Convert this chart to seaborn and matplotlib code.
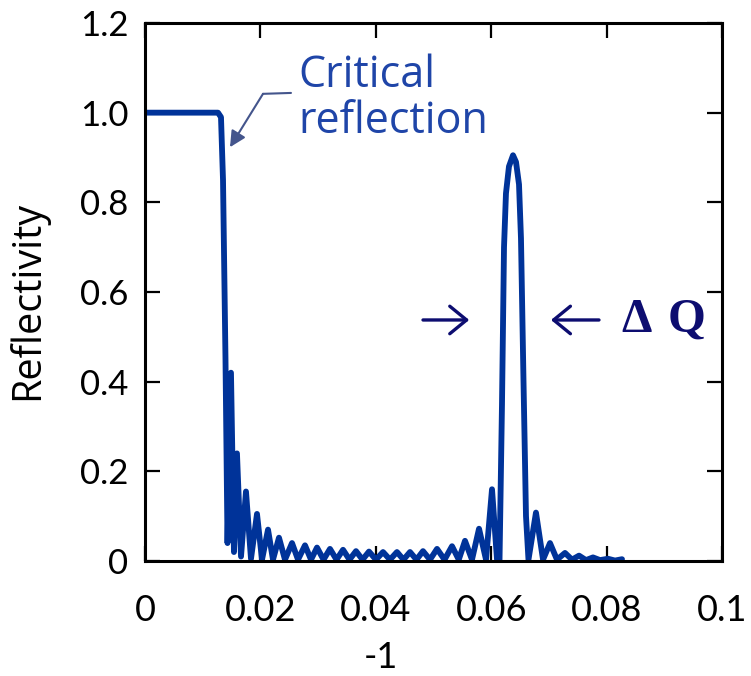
import numpy as np
import pandas as pd
import matplotlib
matplotlib.use("Agg")
import matplotlib.pyplot as plt
import seaborn as sns

# Momentum transfer Q (1/Å) and reflectivity
q = [0.0, 0.01265, 0.01317, 0.01352, 0.01395, 0.01430, 0.01490, 0.01542, 0.01594,
     0.01664, 0.01750, 0.01837, 0.01941, 0.02028, 0.02132, 0.02218, 0.02322,
     0.02426, 0.02548, 0.02652, 0.02773, 0.02877, 0.02981, 0.03094, 0.03206,
     0.03319, 0.03432, 0.03544, 0.03657, 0.03770, 0.03882, 0.04003, 0.04125,
     0.04246, 0.04367, 0.04480, 0.04593, 0.04705, 0.04818, 0.04939, 0.05061,
     0.05191, 0.05321, 0.05438, 0.05546, 0.05667, 0.05789, 0.05910, 0.06014,
     0.06101, 0.06144, 0.06187, 0.06222, 0.06256, 0.06308, 0.06378, 0.06430,
     0.06482, 0.06516, 0.06560, 0.06603, 0.06646, 0.06776, 0.06898, 0.07019,
     0.07140, 0.07279, 0.07400, 0.07522, 0.07643, 0.07764, 0.07886, 0.08024,
     0.08146, 0.08267]
refl = [1.0, 1.0, 0.99, 0.85, 0.45, 0.04, 0.42, 0.02, 0.24,
        0.01, 0.155, 0.005, 0.105, 0.003, 0.07, 0.003, 0.052,
        0.003, 0.04, 0.003, 0.035, 0.003, 0.03, 0.003, 0.027,
        0.003, 0.025, 0.003, 0.022, 0.003, 0.021, 0.003, 0.02,
        0.003, 0.02, 0.003, 0.02, 0.003, 0.022, 0.003, 0.027,
        0.003, 0.033, 0.003, 0.045, 0.003, 0.072, 0.003, 0.16,
        0.003, 0.0, 0.35, 0.70, 0.82, 0.88, 0.905, 0.89,
        0.84, 0.72, 0.40, 0.10, 0.003, 0.108, 0.003, 0.04,
        0.003, 0.018, 0.003, 0.012, 0.002, 0.008, 0.002, 0.005,
        0.001, 0.004]

x_ticks = [0, 0.02, 0.04, 0.06, 0.08, 0.1]
x_tick_labels = ["0", "0.02", "0.04", "0.06", "0.08", "0.1"]
y_ticks = [0, 0.2, 0.4, 0.6, 0.8, 1.0, 1.2]
y_tick_labels = ["0", "0.2", "0.4", "0.6", "0.8", "1.0", "1.2"]

sns.set_style("ticks")
plt.rcParams['font.family'] = ['Lato', 'DejaVu Sans']

fig = plt.figure(figsize=(7.51, 6.76), dpi=100)
ax = fig.add_axes([145 / 751, 1 - 561 / 676, 577 / 751, 538 / 676])

df = pd.DataFrame({"Q": q, "R": refl})
sns.lineplot(data=df, x="Q", y="R", sort=False, estimator=None,
             color="#003399", lw=4.2, ax=ax)
for ln in ax.get_lines():
    ln.set_solid_joinstyle("round")

ax.set_xlim(0, 0.1)
ax.set_ylim(0, 1.2)
ax.set_xticks(x_ticks)
ax.set_xticklabels(x_tick_labels, family=['Liberation Sans Narrow', 'Lato'], fontsize=26)
ax.set_yticks(y_ticks)
ax.set_yticklabels(y_tick_labels, fontsize=25)
ax.tick_params(axis="both", direction="in", length=11, width=1.6,
               top=True, right=True, color="black", labelcolor="black")
ax.tick_params(axis="x", pad=24)
ax.tick_params(axis="y", pad=12)
for s in ax.spines.values():
    s.set_linewidth(2.2)
    s.set_color("black")

ax.set_ylabel("Reflectivity", fontsize=28.5, family=["Open Sans", "Lato"], color="black")
ax.yaxis.set_label_coords(-0.168, 0.485)
ax.set_xlabel("-1", fontsize=26, family=['Liberation Sans Narrow', 'Lato'], color="black")
ax.xaxis.set_label_coords(0.409, -0.148)

# Critical reflection annotation
ann_color = "#44558c"
ax.plot([0.02045, 0.0253], [1.042, 1.044], color=ann_color, lw=1.5, clip_on=False)
ax.annotate("", xy=(0.01473, 0.923), xytext=(0.02045, 1.042),
            arrowprops=dict(arrowstyle="-|>", color=ann_color, lw=1.5,
                            mutation_scale=24, shrinkA=0, shrinkB=0))
ax.text(0.0265, 1.057, "Critical", color="#1f45a8", fontsize=31,
        family=["Open Sans", "Lato"], va="baseline")
ax.text(0.0265, 0.955, "reflection", color="#1f45a8", fontsize=31,
        family=["Open Sans", "Lato"], va="baseline")

# Delta Q markers
dq_color = "#0d0d70"
arrow_kw = dict(arrowstyle="->, head_length=0.55, head_width=0.45",
                color=dq_color, lw=2.4, mutation_scale=22,
                shrinkA=0, shrinkB=0)
ax.annotate("", xy=(0.05619, 0.5376), xytext=(0.04818, 0.5376), arrowprops=arrow_kw)
ax.annotate("", xy=(0.07036, 0.5376), xytext=(0.07868, 0.5376), arrowprops=arrow_kw)
serif = ["Liberation Serif", "DejaVu Serif"]
ax.text(0.0826, 0.511, "Δ", color=dq_color, fontsize=35, fontweight="bold",
        family=serif, ha="left", va="baseline")
ax.text(0.0905, 0.511, "Q", color=dq_color, fontsize=35, fontweight="bold",
        family=serif, ha="left", va="baseline")

fig.savefig("out.png", dpi=100)
